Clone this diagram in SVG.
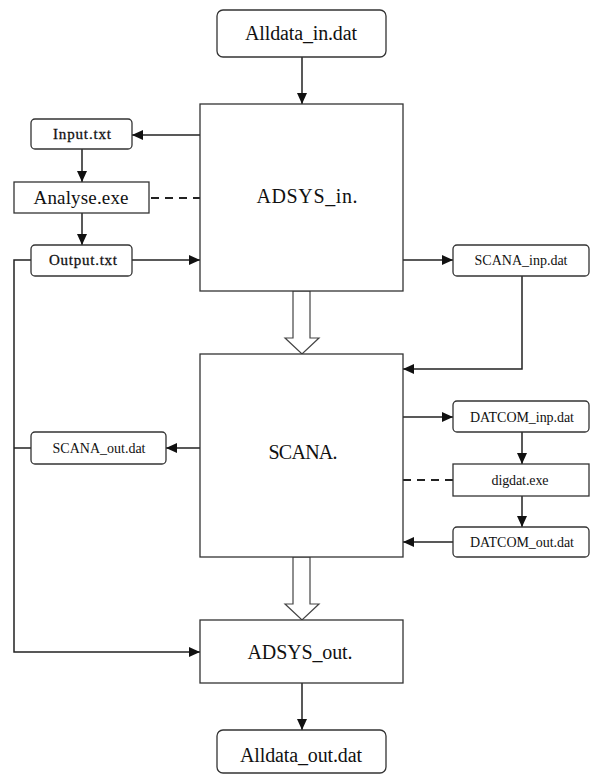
<svg xmlns="http://www.w3.org/2000/svg" width="595" height="775" viewBox="0 0 595 775">
<defs>
<marker id="ah" markerUnits="userSpaceOnUse" markerWidth="12" markerHeight="10" refX="11" refY="5" orient="auto">
<path d="M0,0 L11,5 L0,10 Z" fill="#111"/>
</marker>
<style>
.box{fill:#fff;stroke:#333;stroke-width:1.3}
.t{font-family:"Liberation Serif","Times New Roman",serif;fill:#111;text-anchor:middle}
.big{font-size:20px}
.sm{font-size:14px}
.ln{fill:none;stroke:#222;stroke-width:1.5}
.ar{fill:none;stroke:#222;stroke-width:1.5;marker-end:url(#ah)}
.da{fill:none;stroke:#222;stroke-width:2.2;stroke-dasharray:8,6}
.hollow{fill:#fff;stroke:#444;stroke-width:1.2}
</style>
</defs>
<rect width="595" height="775" fill="#fff"/>
<g id="connectors">
<line class="ar" x1="302" y1="57" x2="302" y2="104"/>
<line class="ar" x1="200" y1="135" x2="132" y2="135"/>
<line class="ar" x1="82" y1="149" x2="82" y2="182"/>
<line class="da" x1="151" y1="198" x2="200" y2="198"/>
<line class="ar" x1="82" y1="213" x2="82" y2="245"/>
<line class="ar" x1="132" y1="260" x2="200" y2="260"/>
<line class="ar" x1="403" y1="260" x2="453" y2="260"/>
<polyline class="ar" points="522,276 522,369 403,369"/>
<polygon class="hollow" points="293,291 310,291 310,338 319,338 302,354 285,338 293,338"/>
<line class="ar" x1="200" y1="448" x2="166" y2="448"/>
<line class="ln" x1="31" y1="448" x2="14" y2="448"/>
<polyline class="ar" points="31,260 14,260 14,652 200,652"/>
<line class="ar" x1="403" y1="417" x2="453" y2="417"/>
<line class="ar" x1="522" y1="432" x2="522" y2="464"/>
<line class="da" x1="403" y1="480" x2="453" y2="480"/>
<line class="ar" x1="522" y1="496" x2="522" y2="527"/>
<line class="ar" x1="453" y1="542" x2="403" y2="542"/>
<polygon class="hollow" points="293,557 310,557 310,604 319,604 302,620 285,604 293,604"/>
<line class="ar" x1="302" y1="683" x2="302" y2="730"/>
</g>
<g id="alldata_in">
<rect class="box" x="217" y="10" width="169" height="47" rx="6"/>
<text class="t big" x="301" y="40" textLength="112">Alldata_in.dat</text>
</g>
<g id="adsys_in">
<rect class="box" x="200" y="104" width="203" height="187"/>
<text class="t big" x="307" y="203" textLength="101">ADSYS_in.</text>
</g>
<g id="input_txt">
<rect class="box" x="31" y="119" width="101" height="30" rx="4"/>
<text class="t" style="font-size:15px;stroke:#111;stroke-width:0.3" x="82" y="139" textLength="58">Input.txt</text>
</g>
<g id="analyse_exe">
<rect class="box" x="14" y="182" width="135" height="31"/>
<text class="t" style="font-size:19px" x="81" y="204" textLength="95">Analyse.exe</text>
</g>
<g id="output_txt">
<rect class="box" x="31" y="245" width="101" height="31" rx="4"/>
<text class="t" style="font-size:15px;stroke:#111;stroke-width:0.3" x="83" y="265" textLength="68">Output.txt</text>
</g>
<g id="scana_inp">
<rect class="box" x="453" y="245" width="136" height="31" rx="4"/>
<text class="t sm" x="521" y="265" textLength="93">SCANA_inp.dat</text>
</g>
<g id="scana">
<rect class="box" x="200" y="354" width="203" height="203"/>
<text class="t big" x="303" y="459" textLength="69">SCANA.</text>
</g>
<g id="scana_out">
<rect class="box" x="31" y="432" width="135" height="32" rx="4"/>
<text class="t sm" x="99" y="453" textLength="93">SCANA_out.dat</text>
</g>
<g id="datcom_inp">
<rect class="box" x="453" y="401" width="136" height="31" rx="4"/>
<text class="t sm" x="522" y="422" textLength="104">DATCOM_inp.dat</text>
</g>
<g id="digdat_exe">
<rect class="box" x="453" y="464" width="136" height="32"/>
<text class="t sm" x="520" y="485" textLength="57">digdat.exe</text>
</g>
<g id="datcom_out">
<rect class="box" x="453" y="527" width="136" height="30" rx="4"/>
<text class="t sm" x="522" y="547" textLength="104">DATCOM_out.dat</text>
</g>
<g id="adsys_out">
<rect class="box" x="200" y="620" width="203" height="63"/>
<text class="t big" x="300" y="659" textLength="105">ADSYS_out.</text>
</g>
<g id="alldata_out">
<rect class="box" x="217" y="730" width="169" height="43" rx="6"/>
<text class="t big" x="301" y="762" textLength="122">Alldata_out.dat</text>
</g>
</svg>
